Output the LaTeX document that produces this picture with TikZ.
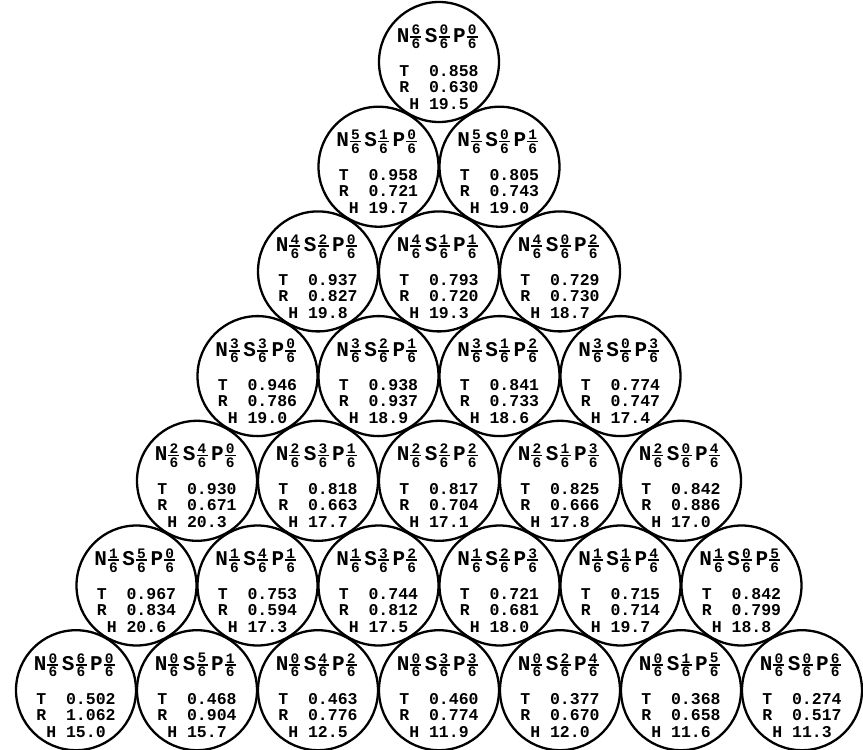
\documentclass[tikz,border=0pt]{standalone}
\usepackage{fontspec}
\newfontfamily\handfont{Liberation Mono}
\usetikzlibrary{positioning}
% stacked sixths under N, S, P
\newcommand\sx[1]{\kern1pt$\vcenter{\hbox to 11pt{\hss\fontsize{14.5}{14.5}\selectfont#1\hss}\kern1pt\hrule height 1.6pt\kern1.5pt\hbox to 11pt{\hss\fontsize{14.5}{14.5}\selectfont6\hss}}$\kern3.5pt}
\tikzset{
  cell/.style={circle,draw=black,line width=2.3pt,minimum size=120pt,inner sep=0pt},
  hdr/.style={font=\handfont\bfseries\fontsize{21}{21}\selectfont,inner sep=0pt},
  val/.style={font=\handfont\bfseries\fontsize{16.5}{16.5}\selectfont,inner sep=0pt,anchor=base},
}
\begin{document}
\begin{tikzpicture}[x=1pt,y=1pt]
  \useasboundingbox (0,0) rectangle (863,-750);
  \foreach \row/\k/\tv/\rv/\hv in {
      0/0/0.858/0.630/19.5,
      1/0/0.958/0.721/19.7, 1/1/0.805/0.743/19.0,
      2/0/0.937/0.827/19.8, 2/1/0.793/0.720/19.3, 2/2/0.729/0.730/18.7,
      3/0/0.946/0.786/19.0, 3/1/0.938/0.937/18.9, 3/2/0.841/0.733/18.6, 3/3/0.774/0.747/17.4,
      4/0/0.930/0.671/20.3, 4/1/0.818/0.663/17.7, 4/2/0.817/0.704/17.1, 4/3/0.825/0.666/17.8, 4/4/0.842/0.886/17.0,
      5/0/0.967/0.834/20.6, 5/1/0.753/0.594/17.3, 5/2/0.744/0.812/17.5, 5/3/0.721/0.681/18.0, 5/4/0.715/0.714/19.7, 5/5/0.842/0.799/18.8,
      6/0/0.502/1.062/15.0, 6/1/0.468/0.904/15.7, 6/2/0.463/0.776/12.5, 6/3/0.460/0.774/11.9, 6/4/0.377/0.670/12.0, 6/5/0.368/0.658/11.6, 6/6/0.274/0.517/11.3}{
    \pgfmathsetmacro\cx{439+(\k-\row/2)*121}
    \pgfmathsetmacro\cy{-(62+\row*104.7)}
    \pgfmathtruncatemacro\nn{6-\row}
    \pgfmathtruncatemacro\ss{\row-\k}
    \node[cell] (c\row\k) at (\cx,\cy) {};
    \node[hdr] (h\row\k) at ([yshift=25pt]c\row\k.center) {N\sx{\nn}S\sx{\ss}P\sx{\k}};
    \node[val] (t\row\k) at ([yshift=-14pt]c\row\k.center) {T\ \ \tv};
    \node[val] (q\row\k) at ([yshift=-30pt]c\row\k.center) {R\ \ \rv};
    \node[val] (w\row\k) at ([yshift=-47pt]c\row\k.center) {H \hv};
  }
\end{tikzpicture}
\end{document}
